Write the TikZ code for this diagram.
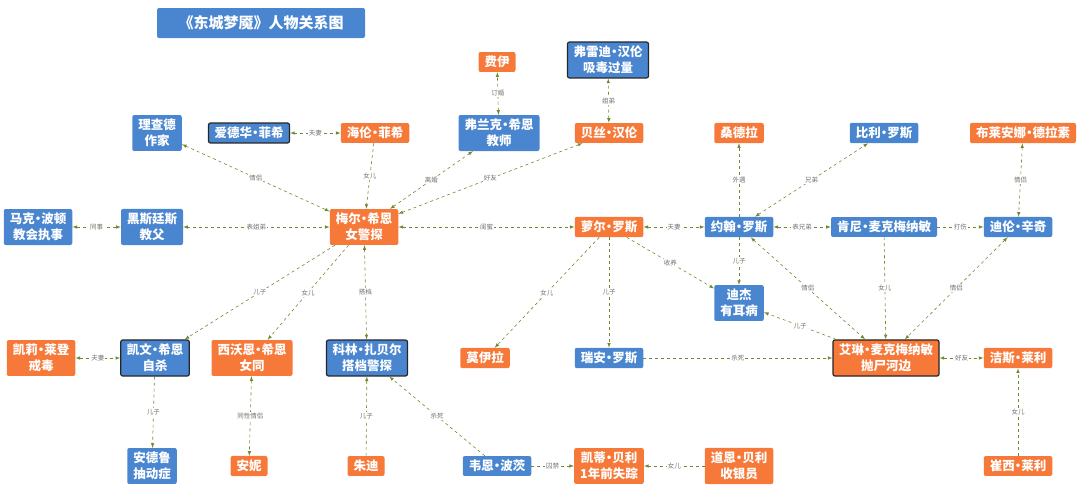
\documentclass[tikz,border=0pt]{standalone}
\usepackage{fontspec}
\setmainfont{Noto Sans CJK SC}
\usetikzlibrary{arrows}
\definecolor{pblue}{HTML}{4A86D0}
\definecolor{porange}{HTML}{F6793A}
\definecolor{rline}{HTML}{6E8B2E}
\newcommand\pdot{\kern-3pt•\kern-3pt}
\begin{document}
\begin{tikzpicture}%
        [x=1pt, y=-1pt,
        person/.style={rounded corners=2pt, text=white, font=\fontsize{12.5}{16}\selectfont\bfseries,
            inner xsep=6pt, inner ysep=4pt, align=center},
        blue/.style={person, fill=pblue},
        orange/.style={person, fill=porange},
        key/.style={draw=black!85, line width=1.2pt},
        rel/.style={dashed, color=rline, semithick, -latex},
        both/.style={rel, latex-latex},
        lab/.style={fill=white, inner sep=1pt, text=black!55, font=\fontsize{6.5}{7}\selectfont}]

    %% Frame
    \useasboundingbox (0,0) rectangle (1080,491);
    \node[blue, minimum width=208pt, minimum height=30pt, font=\fontsize{15}{17}\selectfont\bfseries] (title) at (261,23) {《东城梦魇》人物关系图};
    %%
    %% People, top rows
    \node[orange] (fei) at (497,62) {费伊};
    \node[blue,key] (fred) at (608,60) {弗雷迪\pdot 汉伦\\吸毒过量};
    \node[blue] (rich) at (157,133) {理查德\\作家};
    \node[blue,key] (edw) at (249,133) {爱德华\pdot 菲希};
    \node[orange] (helen) at (375,133) {海伦\pdot 菲希};
    \node[blue] (frank) at (499,133) {弗兰克\pdot 希恩\\教师};
    \node[orange] (beth) at (609,133) {贝丝\pdot 汉伦};
    \node[orange] (sandra) at (739,133) {桑德拉};
    \node[blue] (billy) at (884,133) {比利\pdot 罗斯};
    \node[orange] (bri) at (1023,133) {布莱安娜\pdot 德拉素};
    %%
    \node[blue] (mark) at (38,227) {马克\pdot 波顿\\教会执事};
    \node[blue] (hast) at (152,227) {黑斯廷斯\\教父};
    \node[orange] (mare) at (364,227) {梅尔\pdot 希恩\\女警探};
    \node[orange] (lori) at (609,227) {萝尔\pdot 罗斯};
    \node[blue] (john) at (739,227) {约翰\pdot 罗斯};
    \node[blue] (kenny) at (884,227) {肯尼\pdot 麦克梅纳敏};
    \node[blue] (dylan) at (1018,227) {迪伦\pdot 辛奇};
    \node[blue] (dj) at (739,303) {迪杰\\有耳病};
    %%
    %% People, lower rows
    \node[orange] (carrie) at (41,358) {凯莉\pdot 莱登\\戒毒};
    \node[blue,key] (kevin) at (155,358) {凯文\pdot 希恩\\自杀};
    \node[orange] (siob) at (252,358) {西沃恩\pdot 希恩\\女同};
    \node[blue,key] (colin) at (367,358) {科林\pdot 扎贝尔\\搭档警探};
    \node[orange] (moira) at (485,358) {莫伊拉};
    \node[blue] (ryan) at (609,358) {瑞安\pdot 罗斯};
    \node[orange,key] (erin) at (886,358) {艾琳\pdot 麦克梅纳敏\\抛尸河边};
    \node[orange] (jess) at (1018,358) {洁斯\pdot 莱利};
    %%
    \node[blue] (drew) at (152,466) {安德鲁\\抽动症};
    \node[orange] (anne) at (249,466) {安妮};
    \node[orange] (judy) at (366,466) {朱迪};
    \node[blue] (wayne) at (497,466) {韦恩\pdot 波茨};
    \node[orange] (katie) at (609,466) {凯蒂\pdot 贝利\\1年前失踪};
    \node[orange] (dawn) at (739,466) {道恩\pdot 贝利\\收银员};
    \node[orange] (tracy) at (1018,466) {崔西\pdot 莱利};
    %%
    %% Relations
    \draw[both] (edw) -- node[lab]{夫妻} (helen);
    \draw[rel] (helen) -- node[lab]{女儿} (mare);
    \draw[both] (rich) -- node[lab]{情侣} (mare);
    \draw[both] (mare) -- node[lab]{离婚} (frank);
    \draw[both] (mare) -- node[lab]{好友} (beth);
    \draw[both] (frank) -- node[lab]{订婚} (fei);
    \draw[both] (beth) -- node[lab]{姐弟} (fred);
    \draw[both] (mark) -- node[lab]{同事} (hast);
    \draw[both] (hast) -- node[lab]{表姐弟} (mare);
    \draw[both] (mare) -- node[lab]{闺蜜} (lori);
    \draw[rel] (mare) -- node[lab]{儿子} (kevin);
    \draw[rel] (mare) -- node[lab]{女儿} (siob);
    \draw[both] (mare) -- node[lab]{搭档} (colin);
    \draw[both] (carrie) -- node[lab]{夫妻} (kevin);
    \draw[rel] (kevin) -- node[lab]{儿子} (drew);
    \draw[both] (siob) -- node[lab]{同性情侣} (anne);
    \draw[rel] (judy) -- node[lab]{儿子} (colin);
    \draw[rel] (wayne) -- node[lab]{杀死} (colin);
    \draw[both] (lori) -- node[lab]{夫妻} (john);
    \draw[rel] (john) -- node[lab]{外遇} (sandra);
    \draw[both] (john) -- node[lab]{兄弟} (billy);
    \draw[both] (john) -- node[lab]{表兄弟} (kenny);
    \draw[rel] (kenny) -- node[lab]{打伤} (dylan);
    \draw[both] (bri) -- node[lab]{情侣} (dylan);
    \draw[rel] (lori) -- node[lab]{女儿} (moira);
    \draw[rel] (lori) -- node[lab]{儿子} (ryan);
    \draw[rel] (lori) -- node[lab]{收养} (dj);
    \draw[rel] (john) -- node[lab]{儿子} (dj);
    \draw[both] (john) -- node[lab]{情侣} (erin);
    \draw[rel] (kenny) -- node[lab]{女儿} (erin);
    \draw[both] (dylan) -- node[lab]{情侣} (erin);
    \draw[rel] (erin) -- node[lab]{儿子} (dj);
    \draw[rel] (ryan) -- node[lab]{杀死} (erin);
    \draw[both] (erin) -- node[lab]{好友} (jess);
    \draw[rel] (tracy) -- node[lab]{女儿} (jess);
    \draw[rel] (wayne) -- node[lab]{囚禁} (katie);
    \draw[rel] (dawn) -- node[lab]{女儿} (katie);
    %%
\end{tikzpicture}
\end{document}
